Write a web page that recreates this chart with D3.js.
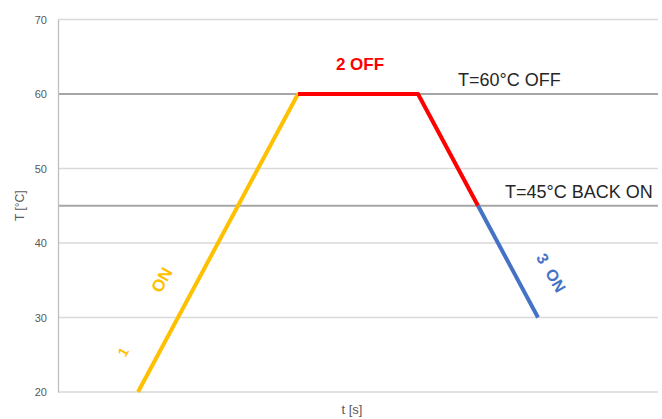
<!DOCTYPE html>
<html>
<head>
<meta charset="utf-8">
<script src="https://cdn.jsdelivr.net/npm/d3@7"></script>
<style>
  html, body { margin: 0; padding: 0; background: #fff; }
  svg { display: block; font-family: "Liberation Sans", Arial, sans-serif; }
</style>
</head>
<body>
<svg id="chart" width="662" height="419"></svg>
<script>
// ---- data ----
const yTicks = [20, 30, 40, 50, 60, 70];
const seg1T = [8, 24];       const seg1V = [20, 60];      // heating ON (yellow)
const seg2T = [24, 36, 42];  const seg2V = [60, 60, 45];  // OFF (red)
const seg3T = [42, 48];      const seg3V = [45, 30];      // back ON (blue)
const thresholds = [60, 45];
const thresholdLabels = ["T=60°C OFF", "T=45°C BACK ON"];
const annTexts = ["1", "ON", "2 OFF", "3  ON"];
const annT = [6.5, 10.4, 30.2, 49.3];
const annV = [25.4, 35.0, 63.9, 36.0];

// ---- layout ----
const svg = d3.select("#chart");
const x = d3.scaleLinear().domain([0, 60]).range([58, 658]);
const y = d3.scaleLinear().domain([20, 70]).range([392, 19.5]);

// gridlines
svg.append("g").selectAll("line").data(yTicks).join("line")
  .attr("x1", x(0)).attr("x2", x(60))
  .attr("y1", d => y(d)).attr("y2", d => y(d))
  .attr("stroke", "#d9d9d9").attr("stroke-width", 1.3);

// threshold lines
svg.append("g").selectAll("line").data(thresholds).join("line")
  .attr("x1", x(0)).attr("x2", x(60))
  .attr("y1", d => y(d)).attr("y2", d => y(d))
  .attr("stroke", "#a6a6a6").attr("stroke-width", 2);

// y axis
const yAxis = d3.axisLeft(y).tickValues(yTicks).tickSize(0).tickPadding(11);
const gy = svg.append("g").attr("transform", `translate(${x(0)},0)`).call(yAxis);
gy.select(".domain").attr("stroke", "#bfbfbf").attr("stroke-width", 1.3);
gy.selectAll("text").attr("fill", "#595959").attr("font-size", 11)
  .attr("font-family", "'Liberation Sans', Arial, sans-serif");

// axis titles
svg.append("text").attr("transform", `translate(24,${y(45)}) rotate(-90)`)
  .attr("text-anchor", "middle").attr("fill", "#595959").attr("font-size", 12)
  .text("T [°C]");
svg.append("text").attr("x", 352).attr("y", 414)
  .attr("text-anchor", "middle").attr("fill", "#595959").attr("font-size", 13)
  .text("t [s]");

// series lines
const line = d3.line().x(d => x(d[0])).y(d => y(d[1]));
const segs = [
  {t: seg1T, v: seg1V, c: "#ffc000"},
  {t: seg2T, v: seg2V, c: "#ff0000"},
  {t: seg3T, v: seg3V, c: "#4472c4"}
];
segs.forEach(s => {
  svg.append("path").datum(s.t.map((t, i) => [t, s.v[i]]))
    .attr("d", line).attr("fill", "none").attr("stroke", s.c)
    .attr("stroke-width", 4).attr("stroke-linejoin", "round");
});

// threshold labels
svg.append("text").attr("x", 458).attr("y", y(60) - 8)
  .attr("fill", "#262626").attr("font-size", 18).text(thresholdLabels[0]);
svg.append("text").attr("x", 505).attr("y", y(45) - 8)
  .attr("fill", "#262626").attr("font-size", 18).text(thresholdLabels[1]);

// annotations
const annColors = ["#ffc000", "#ffc000", "#ff0000", "#4472c4"];
const annRot = [-60, -60, 0, 60];
const annSize = [14, 17, 17, 16];
annTexts.forEach((txt, i) => {
  svg.append("text")
    .attr("transform", `translate(${x(annT[i])},${y(annV[i])}) rotate(${annRot[i]})`)
    .attr("text-anchor", "middle").attr("dominant-baseline", "central")
    .attr("fill", annColors[i]).attr("font-size", annSize[i])
    .attr("font-weight", "bold")
    .style("white-space", "pre")
    .text(txt);
});
</script>
</body>
</html>
